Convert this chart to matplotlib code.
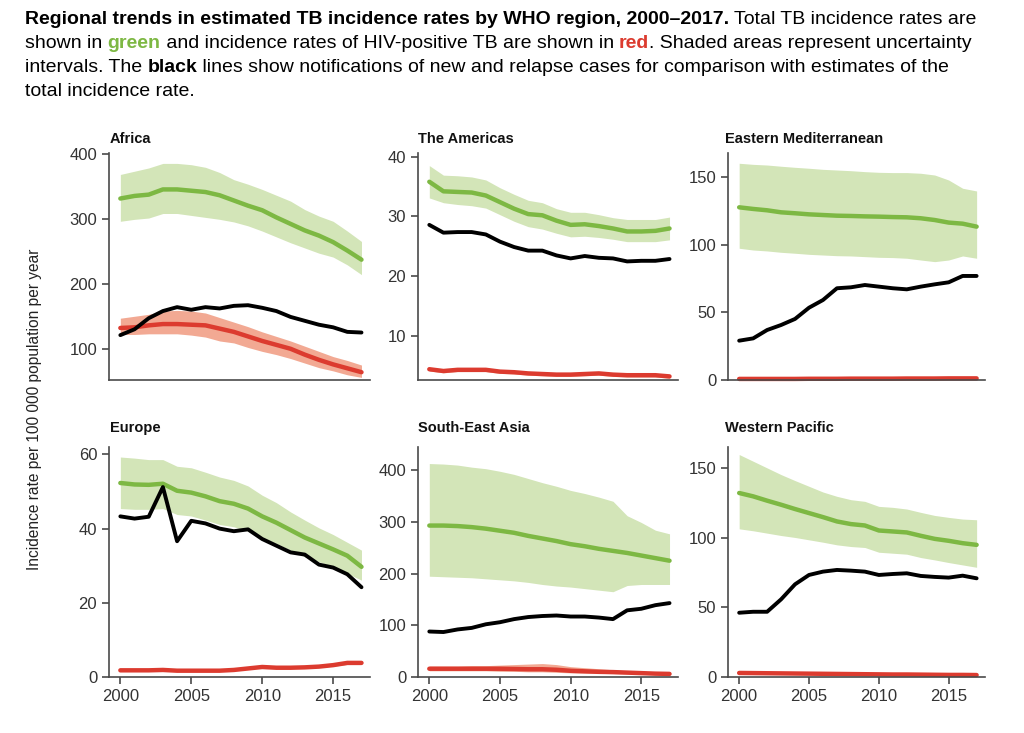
import numpy as np
import matplotlib
matplotlib.use('agg')
from matplotlib import pyplot as plt

years = np.arange(2000, 2018)

# Africa
afr_total = [331, 335, 337, 345, 345, 343, 341, 336, 328, 320, 313, 302, 292, 282, 274, 264, 251, 237]
afr_total_hi = [368, 373, 378, 385, 385, 383, 379, 371, 360, 353, 345, 336, 327, 314, 304, 296, 281, 265]
afr_total_lo = [296, 299, 301, 308, 308, 305, 302, 299, 295, 289, 281, 272, 263, 255, 247, 241, 229, 214]
afr_hiv = [132, 133, 136, 138, 138, 137, 136, 131, 126, 119, 112, 106, 100, 91, 83, 76, 70, 64]
afr_hiv_hi = [147, 150, 153, 158, 159, 158, 155, 148, 141, 134, 126, 119, 112, 104, 96, 88, 82, 75]
afr_hiv_lo = [122, 122, 123, 123, 123, 121, 118, 112, 109, 102, 96, 91, 85, 78, 71, 66, 60, 56]
afr_notif = [121, 130, 147, 158, 164, 160, 164, 162, 166, 167, 163, 158, 149, 143, 137, 133, 126, 125]

# The Americas
amr_total = [35.8, 34.2, 34.1, 34.0, 33.5, 32.4, 31.3, 30.4, 30.2, 29.3, 28.6, 28.7, 28.4, 28.0, 27.5, 27.5, 27.6, 28.0]
amr_total_hi = [38.5, 36.9, 36.8, 36.6, 36.1, 34.8, 33.7, 32.7, 32.3, 31.3, 30.7, 30.7, 30.3, 29.8, 29.5, 29.5, 29.5, 29.9]
amr_total_lo = [33.1, 32.3, 32.0, 31.8, 31.4, 30.3, 29.2, 28.3, 27.9, 27.2, 26.6, 26.7, 26.5, 26.2, 25.8, 25.8, 25.8, 26.1]
amr_hiv = [4.5, 4.2, 4.4, 4.4, 4.4, 4.1, 4.0, 3.8, 3.7, 3.6, 3.6, 3.7, 3.8, 3.6, 3.5, 3.5, 3.5, 3.3]
amr_hiv_hi = [4.8, 4.5, 4.7, 4.7, 4.7, 4.4, 4.3, 4.1, 4.0, 3.9, 3.9, 4.0, 4.1, 3.9, 3.8, 3.8, 3.8, 3.6]
amr_hiv_lo = [4.2, 3.9, 4.1, 4.1, 4.1, 3.8, 3.7, 3.5, 3.4, 3.3, 3.3, 3.4, 3.5, 3.3, 3.2, 3.2, 3.2, 3.0]
amr_notif = [28.6, 27.3, 27.4, 27.4, 27.0, 25.8, 24.9, 24.3, 24.3, 23.5, 23.0, 23.4, 23.1, 23.0, 22.5, 22.6, 22.6, 22.9]

# Eastern Mediterranean
emr_total = [127.8, 126.6, 125.6, 124.1, 123.4, 122.6, 122.1, 121.6, 121.4, 121.1, 120.9, 120.6, 120.4, 119.7, 118.4, 116.5, 115.7, 113.5]
emr_total_hi = [160.4, 159.6, 159.1, 158.2, 157.4, 156.7, 155.9, 155.4, 154.9, 154.2, 153.7, 153.5, 153.5, 153.0, 151.7, 148.0, 141.9, 139.9]
emr_total_lo = [97.5, 96.2, 95.5, 94.5, 93.8, 93.0, 92.5, 92.0, 91.8, 91.3, 90.8, 90.6, 90.1, 88.8, 87.6, 88.8, 91.8, 90.1]
emr_hiv = [0.8, 0.8, 0.8, 0.8, 0.8, 0.9, 0.9, 0.9, 1.0, 1.0, 1.0, 1.0, 1.1, 1.1, 1.1, 1.2, 1.2, 1.2]
emr_hiv_hi = [1.0, 1.0, 1.0, 1.0, 1.0, 1.1, 1.1, 1.1, 1.2, 1.2, 1.2, 1.2, 1.3, 1.3, 1.3, 1.4, 1.4, 1.4]
emr_hiv_lo = [0.6, 0.6, 0.6, 0.6, 0.6, 0.7, 0.7, 0.7, 0.8, 0.8, 0.8, 0.8, 0.9, 0.9, 0.9, 1.0, 1.0, 1.0]
emr_notif = [29.1, 30.8, 37.0, 40.7, 45.2, 53.5, 59.2, 67.9, 68.6, 70.3, 69.1, 67.9, 67.1, 69.1, 70.8, 72.3, 77.0, 77.0]

# Europe
eur_total = [52.3, 51.9, 51.8, 52.1, 50.2, 49.7, 48.7, 47.4, 46.7, 45.4, 43.3, 41.6, 39.6, 37.6, 36.0, 34.4, 32.7, 29.7]
eur_total_hi = [59.3, 59.0, 58.6, 58.6, 56.8, 56.4, 55.2, 53.9, 53.0, 51.5, 49.0, 47.0, 44.5, 42.3, 40.2, 38.4, 36.3, 34.2]
eur_total_lo = [45.4, 45.2, 45.2, 45.4, 43.8, 43.4, 42.3, 41.1, 40.5, 39.3, 37.5, 36.0, 34.2, 32.4, 31.1, 29.7, 27.9, 26.1]
eur_hiv = [1.8, 1.8, 1.8, 1.9, 1.7, 1.7, 1.7, 1.7, 1.9, 2.3, 2.7, 2.5, 2.5, 2.6, 2.8, 3.2, 3.8, 3.8]
eur_hiv_hi = [2.0, 2.0, 2.0, 2.1, 1.9, 1.9, 1.9, 1.9, 2.1, 2.5, 2.9, 2.7, 2.7, 2.8, 3.0, 3.5, 4.2, 4.2]
eur_hiv_lo = [1.6, 1.6, 1.6, 1.7, 1.5, 1.5, 1.5, 1.5, 1.7, 2.1, 2.5, 2.3, 2.3, 2.4, 2.6, 2.9, 3.4, 3.4]
eur_notif = [43.3, 42.7, 43.2, 51.2, 36.6, 42.1, 41.4, 40.0, 39.3, 39.8, 37.2, 35.4, 33.6, 33.0, 30.3, 29.5, 27.7, 24.2]

# South-East Asia
sea_total = [293, 293, 292, 290, 287, 283, 279, 273, 268, 263, 257, 253, 248, 244, 240, 235, 230, 225]
sea_total_hi = [413, 412, 410, 406, 403, 398, 392, 384, 376, 369, 361, 355, 348, 340, 312, 299, 284, 277]
sea_total_lo = [195, 194, 193, 192, 190, 188, 186, 183, 179, 176, 174, 171, 168, 165, 177, 179, 179, 179]
sea_hiv = [16, 16, 16, 16, 16, 16, 15.5, 15, 15, 14, 12, 11, 10, 9.5, 8.5, 7.5, 6.5, 6]
sea_hiv_hi = [21, 21, 21, 22, 22, 23, 24, 25, 26, 24, 20, 18, 16, 14, 12, 10, 9, 8]
sea_hiv_lo = [12, 12, 12, 12, 12, 11, 11, 10, 10, 9, 8, 7.5, 7, 6.5, 6, 5, 4.5, 4]
sea_notif = [88, 87, 92, 95, 102, 106, 112, 116, 118, 119, 117, 117, 115, 112, 129, 132, 139, 143]

# Western Pacific
wpr_total = [132.0, 129.6, 126.5, 123.6, 120.5, 117.6, 114.7, 111.6, 109.7, 108.7, 105.1, 104.4, 103.7, 101.3, 99.1, 97.7, 96.0, 94.8]
wpr_total_hi = [159.6, 154.8, 150.0, 145.2, 140.9, 136.8, 132.7, 129.6, 127.2, 126.0, 122.4, 121.7, 120.5, 118.1, 115.9, 114.5, 113.3, 112.8]
wpr_total_lo = [106.3, 104.9, 103.2, 101.5, 100.1, 98.4, 96.7, 94.8, 93.6, 92.9, 89.5, 88.8, 88.1, 85.7, 84.0, 82.1, 80.4, 78.7]
wpr_hiv = [2.9, 2.8, 2.7, 2.6, 2.5, 2.4, 2.3, 2.2, 2.1, 2.0, 1.9, 1.8, 1.8, 1.7, 1.6, 1.5, 1.5, 1.4]
wpr_hiv_hi = [3.3, 3.2, 3.1, 3.0, 2.9, 2.8, 2.7, 2.6, 2.5, 2.4, 2.3, 2.2, 2.1, 2.0, 1.9, 1.8, 1.8, 1.7]
wpr_hiv_lo = [2.5, 2.4, 2.3, 2.2, 2.1, 2.0, 1.9, 1.8, 1.7, 1.6, 1.5, 1.4, 1.5, 1.4, 1.3, 1.2, 1.2, 1.1]
wpr_notif = [46.1, 46.8, 46.8, 55.7, 66.5, 73.2, 75.6, 76.8, 76.3, 75.6, 73.2, 73.9, 74.4, 72.5, 71.8, 71.3, 72.7, 70.8]

region_names = ['Africa', 'The Americas', 'Eastern Mediterranean',
                'Europe', 'South-East Asia', 'Western Pacific']
y_ticks = [[100, 200, 300, 400], [10, 20, 30, 40], [0, 50, 100, 150],
           [0, 20, 40, 60], [0, 100, 200, 300, 400], [0, 50, 100, 150]]
y_limits = [(52, 401), (2.7, 40.6), (0, 168), (0, 62), (0, 445), (0, 165)]

regions = [
    (afr_total, afr_total_lo, afr_total_hi, afr_hiv, afr_hiv_lo, afr_hiv_hi, afr_notif),
    (amr_total, amr_total_lo, amr_total_hi, amr_hiv, amr_hiv_lo, amr_hiv_hi, amr_notif),
    (emr_total, emr_total_lo, emr_total_hi, emr_hiv, emr_hiv_lo, emr_hiv_hi, emr_notif),
    (eur_total, eur_total_lo, eur_total_hi, eur_hiv, eur_hiv_lo, eur_hiv_hi, eur_notif),
    (sea_total, sea_total_lo, sea_total_hi, sea_hiv, sea_hiv_lo, sea_hiv_hi, sea_notif),
    (wpr_total, wpr_total_lo, wpr_total_hi, wpr_hiv, wpr_hiv_lo, wpr_hiv_hi, wpr_notif),
]

GREEN = '#7db843'
GREEN_FILL = '#d3e5b8'
RED = '#dc3b2f'
RED_FILL = '#f2a993'
AXIS_GREY = '#4a4a4a'
TEXT_FONT = ['Liberation Sans', 'DejaVu Sans']

plt.rcParams['font.family'] = TEXT_FONT

W, H = 1024, 733
fig = plt.figure(figsize=(W / 100, H / 100), dpi=100)

# axes boxes in pixels: left, top, right, bottom
col_x = [(109, 370), (418, 678), (728, 985)]
row_y = [(153, 380), (447, 677)]
title_x = [110, 418, 725]
title_y = [139, 428]

for i, (name, data) in enumerate(zip(region_names, regions)):
    r, c = divmod(i, 3)
    x0, x1 = col_x[c]
    y0, y1 = row_y[r]
    ax = fig.add_axes([x0 / W, 1 - y1 / H, (x1 - x0) / W, (y1 - y0) / H])
    total, total_lo, total_hi, hiv, hiv_lo, hiv_hi, notif = data

    ax.fill_between(years, total_lo, total_hi, color=GREEN_FILL, lw=0)
    ax.fill_between(years, hiv_lo, hiv_hi, color=RED_FILL, lw=0)
    ax.plot(years, total, color=GREEN, lw=3.2, solid_capstyle='round')
    ax.plot(years, hiv, color=RED, lw=3.2, solid_capstyle='round', clip_on=False)
    ax.plot(years, notif, color='black', lw=2.8, solid_capstyle='round')

    ax.set_xlim(1999.2, 2017.6)
    ax.set_ylim(*y_limits[i])
    ax.set_yticks(y_ticks[i])
    ax.set_xticks([2000, 2005, 2010, 2015])
    for side in ['top', 'right']:
        ax.spines[side].set_visible(False)
    for side in ['left', 'bottom']:
        ax.spines[side].set_color(AXIS_GREY)
        ax.spines[side].set_linewidth(1.2)
    ax.tick_params(colors=AXIS_GREY, labelcolor='#333333', labelsize=12,
                   length=5, width=1.2)
    if r == 0:
        ax.tick_params(axis='x', bottom=False, labelbottom=False)

    fig.text(title_x[c] / W, 1 - title_y[r] / H, name, fontsize=10.5,
             fontweight='bold', ha='left', va='center', color='#111111')

fig.text(35 / W, 1 - 409 / H, 'Incidence rate per 100 000 population per year',
         rotation=90, ha='center', va='center', fontsize=11.2, color='#222222')

# caption with mixed styles, laid out piece by piece
caption = [
    [('Regional trends in estimated TB incidence rates by WHO region, 2000\u20132017.', 'bold', 'black'),
     (' Total TB incidence rates are', 'normal', 'black')],
    [('shown in ', 'normal', 'black'), ('green', 'bold', GREEN),
     (' and incidence rates of HIV-positive TB are shown in ', 'normal', 'black'),
     ('red', 'bold', RED), ('. Shaded areas represent uncertainty', 'normal', 'black')],
    [('intervals. The ', 'normal', 'black'), ('black', 'bold', 'black'),
     (' lines show notifications of new and relapse cases for comparison with estimates of the', 'normal', 'black')],
    [('total incidence rate.', 'normal', 'black')],
]
line_y = [20, 44, 68, 91]
renderer = fig.canvas.get_renderer()
for pieces, ly in zip(caption, line_y):
    x = 25
    for txt, weight, colour in pieces:
        t = fig.text(x / W, 1 - ly / H, txt, fontsize=14, fontweight=weight,
                     color=colour, ha='left', va='center')
        x += t.get_window_extent(renderer).width

fig.savefig('out.png', dpi=100)
